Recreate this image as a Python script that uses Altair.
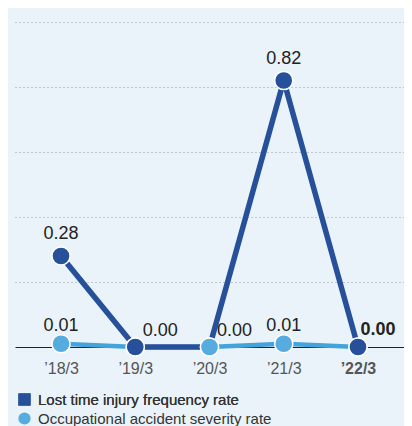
import altair as alt
import pandas as pd

years = ["’18/3", "’19/3", "’20/3", "’21/3", "’22/3"]
ltifr = [0.28, 0.00, 0.00, 0.82, 0.00]
severity = [0.01, 0.00, 0.00, 0.01, 0.00]
series_names = ["Lost time injury frequency rate", "Occupational accident severity rate"]
light_on_top = [False, False, True, False, False]

DARK = "#27509b"
LIGHT = "#56acdf"
LIGHT_LINE = "#45a3dc"
FONT = "Liberation Sans"

rows = []
for i, yr in enumerate(years):
    rows.append(dict(year=yr, series=series_names[0], value=ltifr[i],
                     front=not light_on_top[i], label=f"{ltifr[i]:.2f}", last=(i == len(years) - 1)))
    rows.append(dict(year=yr, series=series_names[1], value=severity[i],
                     front=False, label=f"{severity[i]:.2f}", last=(i == len(years) - 1)))
df = pd.DataFrame(rows)

last_year = years[-1]

x = alt.X("year:N", sort=years,
          scale=alt.Scale(type="point", padding=0.62),
          axis=alt.Axis(title=None, labelAngle=0, ticks=False, domainColor="#222", domainWidth=1,
                        labelPadding=13, labelFontSize=16, labelColor="#555", labelFont=FONT,
                        grid=False,
                        labelFontWeight={"condition": {"test": f"datum.value == '{last_year}'", "value": "bold"},
                                         "value": "normal"}))
y = alt.Y("value:Q", scale=alt.Scale(domain=[0, 1]),
          axis=alt.Axis(title=None, labels=False, ticks=False, domain=False,
                        values=[0.2, 0.4, 0.6, 0.8, 1.0], grid=True,
                        gridDash=[1, 3], gridColor="#9a9a9a", gridWidth=1))

base = alt.Chart(df).encode(x=x, y=y)

dark = alt.datum.series == series_names[0]
light = alt.datum.series == series_names[1]

light_line = base.transform_filter(light).mark_line(color=LIGHT_LINE, strokeWidth=4.5)
dark_line = base.transform_filter(dark).mark_line(color=DARK, strokeWidth=5.5)

leg = dict(title=None, orient="none", legendX=2, symbolSize=150, symbolStrokeWidth=0,
           labelFontSize=15, labelColor="#333", labelFont=FONT, labelOffset=6, padding=0,
           labelLimit=400)
dark_color = alt.Color("series:N", scale=alt.Scale(domain=[series_names[0]], range=[DARK]),
                       legend=alt.Legend(legendY=370, symbolType="square", **leg))
light_fill = alt.Fill("series:N", scale=alt.Scale(domain=[series_names[1]], range=[LIGHT]),
                      legend=alt.Legend(legendY=389, symbolType="circle", **leg))

pt = dict(filled=True, size=330, stroke="white", strokeWidth=1.5, opacity=1, shape="circle")

dark_back = base.transform_filter(dark & (alt.datum.front == False)).mark_point(**pt).encode(color=dark_color)
light_pts = base.transform_filter(light).mark_point(**pt).encode(fill=light_fill)
dark_front = base.transform_filter(dark & (alt.datum.front == True)).mark_point(**pt).encode(color=dark_color)

txt = dict(fontSize=18, font=FONT, color="#222", baseline="middle")
dark_labels = base.transform_filter(dark & (alt.datum.value > 0)).mark_text(dy=-22, **txt).encode(text="label:N")
light_labels = base.transform_filter(light & (alt.datum.value > 0)).mark_text(dy=-18, **txt).encode(text="label:N")
zero_labels = base.transform_filter(light & (alt.datum.value == 0) & (alt.datum.last == False)).mark_text(
    dy=-16, dx=25, **txt).encode(text="label:N")
last_label = base.transform_filter(light & (alt.datum.value == 0) & (alt.datum.last == True)).mark_text(
    dy=-17, dx=20, fontWeight="bold", **txt).encode(text="label:N")

chart = alt.layer(
    light_line, dark_line, dark_back, light_pts, dark_front,
    dark_labels, light_labels, zero_labels, last_label
).resolve_scale(color="independent", fill="independent").properties(
    width=389, height=325,
    autosize=alt.AutoSizeParams(type="none"),
    padding={"left": 7, "top": 14, "right": 0, "bottom": 79},
    background="#eaf3fa",
).configure_view(stroke=None)

chart.save("out.html", embed_options={"renderer": "svg", "actions": False})
